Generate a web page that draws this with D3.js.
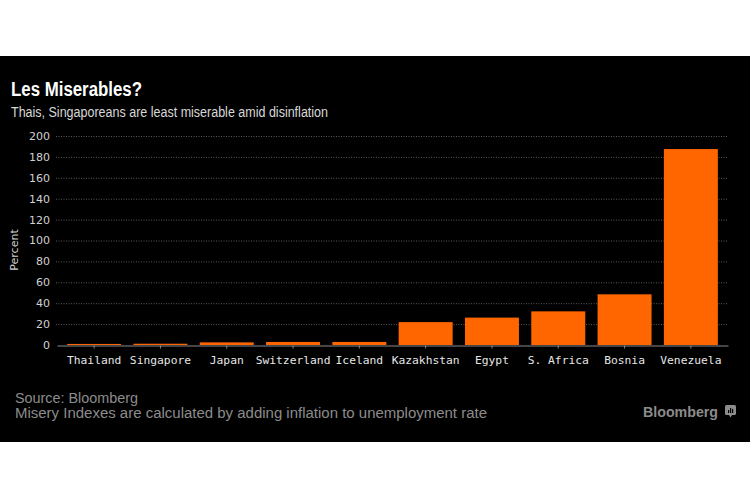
<!DOCTYPE html>
<html>
<head>
<meta charset="utf-8">
<script src="https://cdn.jsdelivr.net/npm/d3@7"></script>
<style>
body { margin: 0; background: #fff; }
</style>
</head>
<body>
<div id="chart"></div>
<script>
(function(){

const countries = ["Thailand","Singapore","Japan","Switzerland","Iceland","Kazakhstan","Egypt","S. Africa","Bosnia","Venezuela"];
const misery = [1.0, 1.2, 2.5, 2.9, 2.9, 21.9, 26.2, 32.2, 48.5, 187.5];
const yTicks = [0,20,40,60,80,100,120,140,160,180,200];

const width = 750;
const height = 500;

const svg = d3.select("#chart")
.append("svg")
.attr("width",width)
.attr("height",height);

// black panel
svg.append("rect")
.attr("x",0)
.attr("y",56)
.attr("width",width)
.attr("height",386)
.attr("fill","#000");

const x = d3.scaleBand()
.domain(countries)
.range([57,728])
.paddingInner(0.186)
.paddingOuter(0.153);

const y = d3.scaleLinear()
.domain([0,200])
.range([345,136]);

// title + subtitle
svg.append("text")
.attr("x",11)
.attr("y",96)
.attr("fill","#fff")
.attr("font-family","Liberation Sans, Arial, sans-serif")
.attr("font-weight","bold")
.attr("font-size","20px")
.attr("textLength",131)
.attr("lengthAdjust","spacingAndGlyphs")
.text("Les Miserables?");

svg.append("text")
.attr("x",11)
.attr("y",117)
.attr("fill","#d8d8d8")
.attr("font-family","Liberation Sans, Arial, sans-serif")
.attr("font-size","14px")
.attr("textLength",317)
.attr("lengthAdjust","spacingAndGlyphs")
.text("Thais, Singaporeans are least miserable amid disinflation");

// grid lines (dotted)
svg.append("g")
.selectAll("line")
.data(yTicks.filter(d=>d>0))
.enter()
.append("line")
.attr("x1",56)
.attr("x2",728)
.attr("y1",d=>y(d)+0.5)
.attr("y2",d=>y(d)+0.5)
.attr("stroke","#5a5a5a")
.attr("stroke-dasharray","1,1.5");

// y tick labels
svg.append("g")
.selectAll("text")
.data(yTicks)
.enter()
.append("text")
.attr("x",50)
.attr("y",d=>y(d))
.attr("dy","0.36em")
.attr("text-anchor","end")
.attr("fill","#d0d0d0")
.attr("font-family","DejaVu Sans, sans-serif")
.attr("font-size","11px")
.text(d=>d);

svg.append("text")
.attr("transform","translate(18,250) rotate(-90)")
.attr("text-anchor","middle")
.attr("fill","#d0d0d0")
.attr("font-family","DejaVu Sans, sans-serif")
.attr("font-size","11px")
.text("Percent");

// bars
svg.append("g")
.selectAll("rect")
.data(misery)
.enter()
.append("rect")
.attr("x",(d,i)=>x(countries[i]))
.attr("y",d=>y(d))
.attr("width",x.bandwidth())
.attr("height",d=>y(0)-y(d))
.attr("fill","#ff6600");

// x axis
const xAxis = svg.append("g")
.attr("transform",`translate(0,${y(0)+0.5})`)
.call(d3.axisBottom(x).tickSize(3).tickSizeOuter(0));

xAxis.select(".domain").attr("stroke","#8a8a8a");
xAxis.selectAll(".tick line").attr("stroke","#8a8a8a");
xAxis.selectAll(".tick text")
.attr("fill","#e6e6e6")
.attr("y",13)
.attr("dy","0.71em")
.attr("font-family","DejaVu Sans Mono, monospace")
.attr("font-size","11.3px");
xAxis.selectAll(".tick text").attr("dy",null).attr("y",18);

// footnotes
svg.append("text")
.attr("x",15)
.attr("y",403)
.attr("fill","#8c8c8c")
.attr("font-family","Liberation Sans, Arial, sans-serif")
.attr("font-size","14px")
.attr("textLength",123)
.attr("lengthAdjust","spacingAndGlyphs")
.text("Source: Bloomberg");

svg.append("text")
.attr("x",15)
.attr("y",418)
.attr("fill","#8c8c8c")
.attr("font-family","Liberation Sans, Arial, sans-serif")
.attr("font-size","14px")
.attr("textLength",472)
.attr("lengthAdjust","spacingAndGlyphs")
.text("Misery Indexes are calculated by adding inflation to unemployment rate");

// Bloomberg logo
svg.append("text")
.attr("x",643)
.attr("y",417)
.attr("fill","#8c8c8c")
.attr("font-family","Liberation Sans, Arial, sans-serif")
.attr("font-weight","bold")
.attr("font-size","14px")
.attr("textLength",75)
.attr("lengthAdjust","spacingAndGlyphs")
.text("Bloomberg");

const logo = svg.append("g").attr("transform","translate(725,405)");
logo.append("rect")
.attr("width",11)
.attr("height",10)
.attr("rx",1.5)
.attr("fill","#8c8c8c");
logo.append("path")
.attr("d","M4,10 L5.5,12.5 L7,10 Z")
.attr("fill","#8c8c8c");
[[3,5,1.2,3],[5,3,1.2,5],[7,4,1.2,4]].forEach(b=>{
logo.append("rect")
.attr("x",b[0]).attr("y",b[1])
.attr("width",b[2]).attr("height",b[3])
.attr("fill","#000");
});

})();
</script>
</body>
</html>
